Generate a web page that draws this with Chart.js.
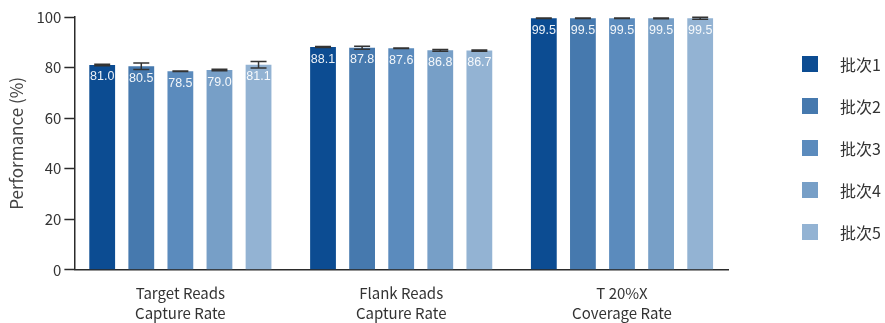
<!DOCTYPE html>
<html>
<head>
<meta charset="utf-8">
<script src="https://cdn.jsdelivr.net/npm/chart.js@4/dist/chart.umd.min.js"></script>
<style>
  html, body { margin: 0; padding: 0; background: #fff; }
  #wrap { position: relative; width: 885px; height: 323px; }
  #chart { position: absolute; left: 0; top: 0; }
  #legend { position: absolute; left: 802px; top: 56px; margin: 0; padding: 0; list-style: none;
            font-family: "Noto Sans CJK SC", "Noto Sans", sans-serif; font-size: 16px; color: #333; }
  #legend li { display: flex; align-items: center; height: 16px; margin-bottom: 26px; }
  #legend .sw { width: 16px; height: 16px; margin-right: 22px; flex: none; }
</style>
</head>
<body>
<div id="wrap">
  <canvas id="chart" width="885" height="323"></canvas>
  <ul id="legend"></ul>
</div>
<script>
// Metric groups on the x axis (two-line labels)
const categories = [
  ['Target Reads', 'Capture Rate'],
  ['Flank Reads', 'Capture Rate'],
  ['T 20%X', 'Coverage Rate']
];

// Batch names
const batchNames = ['批次1', '批次2', '批次3', '批次4', '批次5'];

// Mean performance (%) per batch, one value per metric group
const batch1 = [81.0, 88.1, 99.5];
const batch2 = [80.5, 87.8, 99.5];
const batch3 = [78.5, 87.6, 99.5];
const batch4 = [79.0, 86.8, 99.5];
const batch5 = [81.1, 86.7, 99.5];

// Standard deviation per batch
const batch1Err = [0.3, 0.2, 0.1];
const batch2Err = [1.3, 0.6, 0.1];
const batch3Err = [0.1, 0.1, 0.1];
const batch4Err = [0.3, 0.3, 0.15];
const batch5Err = [1.3, 0.2, 0.4];

// Y axis ticks
const yTicks = [0, 20, 40, 60, 80, 100];

const batchValues = [batch1, batch2, batch3, batch4, batch5];
const batchErrors = [batch1Err, batch2Err, batch3Err, batch4Err, batch5Err];
const batchColors = ['#0c4c92', '#4679ae', '#5b8bbd', '#779fc7', '#93b3d3'];

const axisColor = '#2b2b2b';
const textColor = '#333333';
const cjkFont = '"Noto Sans CJK SC", "Noto Sans", sans-serif';

// Error bars: whisker from mean - sd to mean + sd with short caps
const errorBars = {
  id: 'errorBars',
  afterDatasetsDraw(chart) {
    const ctx = chart.ctx;
    const y = chart.scales.y;
    ctx.save();
    ctx.strokeStyle = '#333';
    ctx.lineWidth = 1.5;
    chart.data.datasets.forEach((ds, i) => {
      const meta = chart.getDatasetMeta(i);
      meta.data.forEach((bar, j) => {
        const v = ds.data[j];
        const e = ds.errors[j];
        const top = y.getPixelForValue(v + e);
        const bot = y.getPixelForValue(v - e);
        const half = 8;
        ctx.beginPath();
        ctx.moveTo(bar.x, top); ctx.lineTo(bar.x, bot);
        ctx.moveTo(bar.x - half, top); ctx.lineTo(bar.x + half, top);
        ctx.moveTo(bar.x - half, bot); ctx.lineTo(bar.x + half, bot);
        ctx.stroke();
      });
    });
    ctx.restore();
  }
};

// Value labels inside each bar, just below its top
const valueLabels = {
  id: 'valueLabels',
  afterDatasetsDraw(chart) {
    const ctx = chart.ctx;
    ctx.save();
    ctx.font = '12.5px "Liberation Sans", Arial, sans-serif';
    ctx.fillStyle = 'rgba(255,255,255,0.92)';
    ctx.textAlign = 'center';
    ctx.textBaseline = 'middle';
    chart.data.datasets.forEach((ds, i) => {
      const meta = chart.getDatasetMeta(i);
      meta.data.forEach((bar, j) => {
        ctx.fillText(ds.data[j].toFixed(1), bar.x, bar.y + 12);
      });
    });
    ctx.restore();
  }
};

const chart = new Chart(document.getElementById('chart'), {
  type: 'bar',
  data: {
    labels: categories,
    datasets: batchNames.map((name, i) => ({
      label: name,
      data: batchValues[i],
      errors: batchErrors[i],
      backgroundColor: batchColors[i],
      borderWidth: 0,
      categoryPercentage: 0.885,
      barPercentage: 0.66
    }))
  },
  options: {
    responsive: false,
    animation: false,
    devicePixelRatio: 1,
    layout: { padding: { left: 2, right: 157, top: 17, bottom: -13 } },
    plugins: {
      legend: { display: false },
      tooltip: { enabled: false }
    },
    scales: {
      x: {
        grid: { display: true, drawOnChartArea: false, drawTicks: false },
        border: { display: true, color: axisColor, width: 1.5 },
        ticks: { color: textColor, padding: 13, font: { family: cjkFont, size: 15, lineHeight: 1.34 } },
        afterBuildTicks(scale) {
          // slightly wider group spacing than the default half-category offset
          scale._startValue = -0.48;
          scale._valueRange = 2.96;
        }
      },
      y: {
        min: 0,
        max: 100,
        afterBuildTicks(scale) {
          scale.ticks = yTicks.map(v => ({ value: v }));
        },
        grid: { display: true, drawOnChartArea: false, drawTicks: true, tickLength: 10, tickColor: axisColor, tickWidth: 1.5 },
        border: { display: true, color: axisColor, width: 1.5 },
        ticks: { color: textColor, padding: 3, font: { family: cjkFont, size: 15 } },
        title: {
          display: true,
          text: 'Performance (%)',
          color: '#444',
          padding: { top: 4, bottom: 7 },
          font: { family: cjkFont, size: 17 }
        }
      }
    }
  },
  plugins: [valueLabels, errorBars]
});

// Legend built from the chart's own datasets
const legendEl = document.getElementById('legend');
chart.data.datasets.forEach(ds => {
  const li = document.createElement('li');
  const sw = document.createElement('span');
  sw.className = 'sw';
  sw.style.background = ds.backgroundColor;
  const tx = document.createElement('span');
  tx.textContent = ds.label;
  li.appendChild(sw);
  li.appendChild(tx);
  legendEl.appendChild(li);
});
</script>
</body>
</html>
